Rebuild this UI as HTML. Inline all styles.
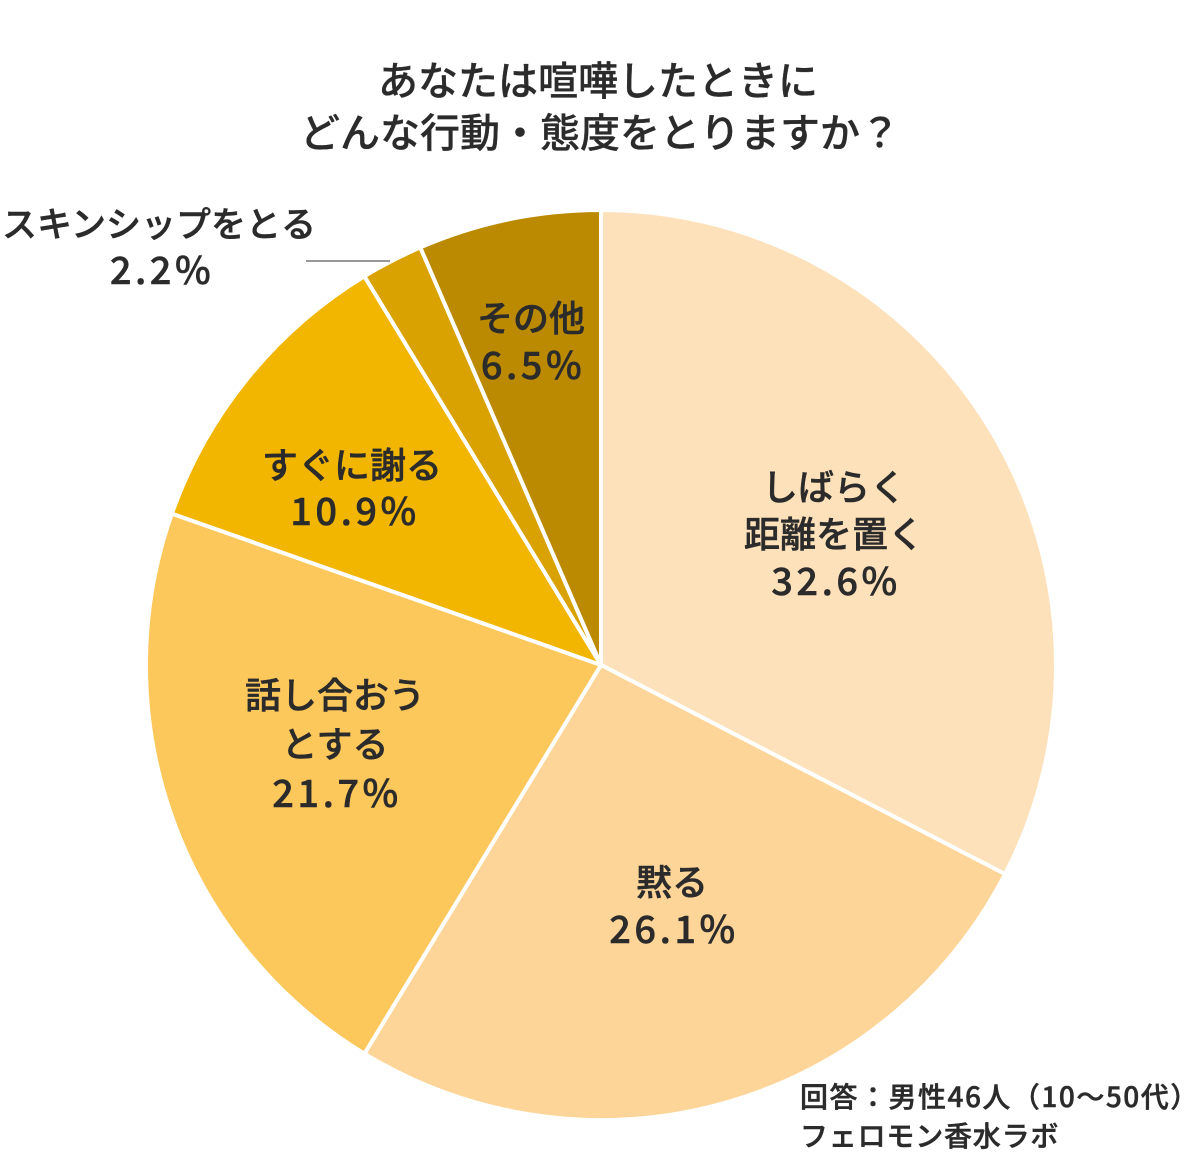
<!DOCTYPE html>
<html>
<head>
<meta charset="utf-8">
<style>
  html, body { margin: 0; padding: 0; background: #ffffff; }
  body { width: 1200px; height: 1170px; overflow: hidden; }
  svg { display: block; }
  text { font-family: "Liberation Sans", "Noto Sans CJK JP", sans-serif; fill: #2b2b2b; }
  .jp { font-family: "Noto Sans CJK JP", "Liberation Sans", sans-serif; font-weight: 500; stroke: #2b2b2b; stroke-width: 0.5; }
  .ti { font-family: "Noto Sans CJK JP", "Liberation Sans", sans-serif; font-weight: 500; stroke: #2b2b2b; stroke-width: 0.3; }
</style>
</head>
<body>
<svg width="1200" height="1170" viewBox="0 0 1200 1170" xmlns="http://www.w3.org/2000/svg">
  <!-- Title -->
  <text class="ti" x="598" y="95" font-size="40" text-anchor="middle">あなたは喧嘩したときに</text>
  <text class="ti" x="600" y="147" font-size="40" text-anchor="middle">どんな行動・態度をとりますか？</text>

  <!-- Pie slices -->
  <g stroke="#ffffff" stroke-width="4" stroke-linejoin="round">
    <path d="M601,665 L601,210 A455,455 0 0 1 1005.1,874.1 Z" fill="#FDE1BB"/>
    <path d="M601,665 L1005.1,874.1 A455,455 0 0 1 364.4,1053.7 Z" fill="#FDD598"/>
    <path d="M601,665 L364.4,1053.7 A455,455 0 0 1 171.9,513.6 Z" fill="#FCC75B"/>
    <path d="M601,665 L171.9,513.6 A455,455 0 0 1 364.4,276.3 Z" fill="#F2B600"/>
    <path d="M601,665 L364.4,276.3 A455,455 0 0 1 420.3,247.4 Z" fill="#D9A200"/>
    <path d="M601,665 L420.3,247.4 A455,455 0 0 1 601,210 Z" fill="#BB8A00"/>
  </g>

  <!-- Leader line -->
  <line x1="306" y1="261" x2="390" y2="261" stroke="#8a8a8a" stroke-width="1.8"/>

  <!-- Labels -->
  <g font-size="36" text-anchor="middle">
    <text class="jp" x="834" y="500">しばらく</text>
    <text class="jp" x="834" y="547">距離を置く</text>
    <text class="jp" x="836" y="595" font-size="38" letter-spacing="3.5">32.6%</text>

    <text class="jp" x="672" y="895">黙る</text>
    <text class="jp" x="674" y="943" font-size="38" letter-spacing="3.5">26.1%</text>

    <text class="jp" x="335" y="708">話し合おう</text>
    <text class="jp" x="335" y="757">とする</text>
    <text class="jp" x="337" y="807" font-size="38" letter-spacing="3.5">21.7%</text>

    <text class="jp" x="352" y="478">すぐに謝る</text>
    <text class="jp" x="355" y="525" font-size="38" letter-spacing="3.5">10.9%</text>

    <text class="jp" x="531" y="331">その他</text>
    <text class="jp" x="533" y="379" font-size="38" letter-spacing="3.5">6.5%</text>

    <text class="jp" x="159" y="237" font-size="35">スキンシップをとる</text>
    <text class="jp" x="162" y="284" font-size="38" letter-spacing="3.5">2.2%</text>
  </g>

  <!-- Footnote -->
  <text class="jp" x="800" y="1107" font-size="28" letter-spacing="1.5">回答：男性46人（10～50代）</text>
  <text class="jp" x="800" y="1146" font-size="28" letter-spacing="0.8">フェロモン香水ラボ</text>
</svg>
</body>
</html>
